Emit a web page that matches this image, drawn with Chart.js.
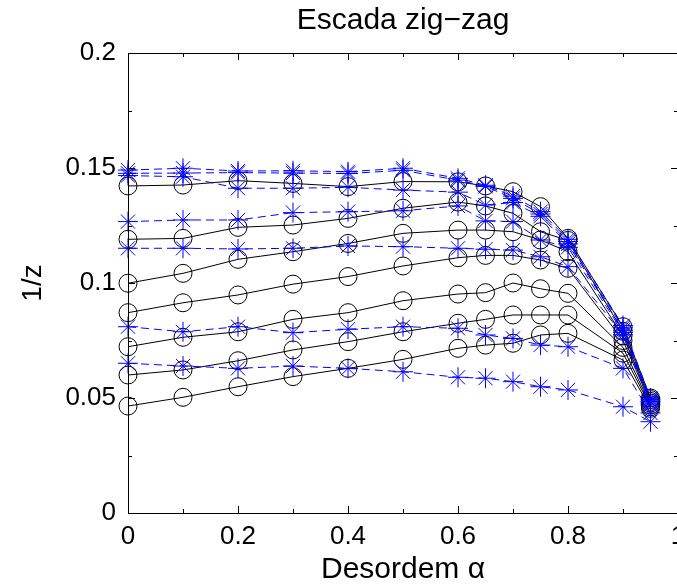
<!DOCTYPE html>
<html>
<head>
<meta charset="utf-8">
<script src="https://cdn.jsdelivr.net/npm/chart.js@4.4.0/dist/chart.umd.min.js"></script>
<style>
  html, body { margin: 0; padding: 0; background: #fff; overflow: hidden; }
  #wrap { position: relative; width: 700px; height: 585px; }
</style>
</head>
<body>
<div id="wrap"><canvas id="chart"></canvas></div>
<script>
"use strict";

// valores de desordem (eixo x)
const alphaVals = [0, 0.1, 0.2, 0.3, 0.4, 0.5, 0.6, 0.65, 0.7, 0.75, 0.8, 0.9, 0.95];

// curvas pretas (círculos, linha cheia)
const black1 = [0.1422, 0.1426, 0.1445, 0.1433, 0.1419, 0.1441, 0.1440, 0.1422, 0.1397, 0.1332, 0.1194, 0.0810, 0.0500];
const black2 = [0.1190, 0.1194, 0.1242, 0.1252, 0.1281, 0.1325, 0.1352, 0.1335, 0.1303, 0.1223, 0.1185, 0.0790, 0.0493];
const black3 = [0.0999, 0.1042, 0.1103, 0.1136, 0.1172, 0.1216, 0.1230, 0.1230, 0.1223, 0.1187, 0.1136, 0.0770, 0.0485];
const black4 = [0.0871, 0.0914, 0.0948, 0.0995, 0.1028, 0.1074, 0.1110, 0.1120, 0.1120, 0.1100, 0.1064, 0.0750, 0.0478];
const black5 = [0.0723, 0.0764, 0.0788, 0.0842, 0.0871, 0.0923, 0.0952, 0.0958, 0.1000, 0.0975, 0.0955, 0.0720, 0.0470];
const black6 = [0.0600, 0.0622, 0.0662, 0.0709, 0.0745, 0.0788, 0.0825, 0.0842, 0.0861, 0.0861, 0.0861, 0.0695, 0.0462];
const black7 = [0.0465, 0.0503, 0.0549, 0.0593, 0.0629, 0.0668, 0.0716, 0.0730, 0.0738, 0.0774, 0.0781, 0.0665, 0.0455];

// curvas azuis (asteriscos, tracejado)
const blue1 = [0.1491, 0.1499, 0.1487, 0.1488, 0.1484, 0.1499, 0.1455, 0.1425, 0.1378, 0.1310, 0.1190, 0.0815, 0.0500];
const blue2 = [0.1477, 0.1478, 0.1480, 0.1478, 0.1476, 0.1490, 0.1447, 0.1420, 0.1368, 0.1300, 0.1180, 0.0805, 0.0492];
const blue3 = [0.1467, 0.1462, 0.1412, 0.1412, 0.1416, 0.1404, 0.1395, 0.1339, 0.1350, 0.1290, 0.1170, 0.0795, 0.0485];
const blue4 = [0.1267, 0.1274, 0.1274, 0.1306, 0.1310, 0.1314, 0.1335, 0.1270, 0.1267, 0.1187, 0.1155, 0.0785, 0.0478];
const blue5 = [0.1151, 0.1151, 0.1148, 0.1151, 0.1161, 0.1158, 0.1151, 0.1147, 0.1143, 0.1114, 0.1071, 0.0775, 0.0470];
const blue6 = [0.0810, 0.0788, 0.0810, 0.0784, 0.0799, 0.0810, 0.0803, 0.0774, 0.0759, 0.0730, 0.0723, 0.0629, 0.0435];
const blue7 = [0.0651, 0.0639, 0.0629, 0.0639, 0.0629, 0.0614, 0.0590, 0.0586, 0.0571, 0.0549, 0.0535, 0.0462, 0.0397];

const blackSeries = [black1, black2, black3, black4, black5, black6, black7];
const blueSeries = [blue1, blue2, blue3, blue4, blue5, blue6, blue7];

const xTickLabels = ["0", "0.2", "0.4", "0.6", "0.8", "1"];
const yTickLabels = ["0", "0.05", "0.1", "0.15", "0.2"];

const FONT = "'Liberation Sans', Arial, sans-serif";

function toPoints(vals) {
    return vals.map((v, i) => ({ x: alphaVals[i], y: v }));
}

const datasets = [];
blueSeries.forEach((s) => {
    datasets.push({
        data: toPoints(s),
        borderColor: "rgb(0,0,255)",
        borderWidth: 1,
        borderDash: [8, 5],
        pointStyle: "star",
        pointRadius: 10,
        pointBorderColor: "rgb(0,0,255)",
        pointBorderWidth: 1,
        pointBackgroundColor: "rgb(0,0,255)",
        tension: 0,
        clip: false,
        order: 1,
    });
});
blackSeries.forEach((s) => {
    datasets.push({
        data: toPoints(s),
        borderColor: "#000",
        borderWidth: 1,
        pointStyle: "circle",
        pointRadius: 9,
        pointBorderColor: "#000",
        pointBorderWidth: 1,
        pointBackgroundColor: "rgba(0,0,0,0)",
        tension: 0,
        clip: false,
        order: 2,
    });
});

// moldura e marcas para dentro, como no MATLAB
const frameTicks = {
    id: "frameTicks",
    afterDatasetsDraw(chart) {
        const { ctx, chartArea: a, scales } = chart;
        const xs = scales.x, ys = scales.y;
        ctx.save();
        ctx.strokeStyle = "#000";
        ctx.lineWidth = 1;
        ctx.beginPath();
        ctx.rect(Math.round(a.left) + 0.5, Math.round(a.top) + 0.5,
                 Math.round(a.right - a.left), Math.round(a.bottom - a.top));
        ctx.stroke();
        ctx.beginPath();
        for (let i = 0; i <= 10; i++) {
            const px = Math.round(xs.getPixelForValue(i / 10)) + 0.5;
            const len = i % 2 === 0 ? 7 : 4;
            ctx.moveTo(px, a.bottom); ctx.lineTo(px, a.bottom - len);
            ctx.moveTo(px, a.top); ctx.lineTo(px, a.top + len);
        }
        for (let i = 0; i <= 8; i++) {
            const py = Math.round(ys.getPixelForValue(i * 0.025)) + 0.5;
            const len = i % 2 === 0 ? 7 : 4;
            ctx.moveTo(a.left, py); ctx.lineTo(a.left + len, py);
            ctx.moveTo(a.right, py); ctx.lineTo(a.right - len, py);
        }
        ctx.stroke();
        ctx.restore();
    }
};

const ctx = document.getElementById("chart").getContext("2d");
new Chart(ctx, {
    type: "line",
    data: { datasets: datasets },
    options: {
        responsive: true,
        maintainAspectRatio: false,
        animation: false,
        layout: { padding: { left: 0, right: 22, top: 0, bottom: 0 } },
        plugins: {
            legend: { display: false },
            tooltip: { enabled: false },
            title: {
                display: true,
                text: "Escada zig\u2212zag",
                color: "#000",
                fullSize: false,
                font: { family: FONT, size: 30, weight: "normal" },
                padding: { top: 3, bottom: 14 },
            },
        },
        scales: {
            x: {
                type: "linear",
                min: 0,
                max: 1,
                grid: { display: false, drawTicks: false },
                border: { display: false },
                ticks: {
                    stepSize: 0.1,
                    color: "#000",
                    padding: 8,
                    maxRotation: 0,
                    font: { family: FONT, size: 26 },
                    callback: (v) => {
                        const k = Math.round(v * 10);
                        return k % 2 === 0 ? xTickLabels[k / 2] : "";
                    },
                },
                title: {
                    display: true,
                    text: "Desordem \u03b1",
                    color: "#000",
                    font: { family: FONT, size: 30, lineHeight: 1 },
                    padding: { top: 0, bottom: 0 },
                },
                afterFit: (scale) => { scale.height = 72; },
            },
            y: {
                type: "linear",
                min: 0,
                max: 0.2,
                grid: { display: false, drawTicks: false },
                border: { display: false },
                ticks: {
                    stepSize: 0.025,
                    color: "#000",
                    padding: 12,
                    font: { family: FONT, size: 26 },
                    callback: (v) => {
                        const k = Math.round(v / 0.025);
                        return k % 2 === 0 ? yTickLabels[k / 2] : "";
                    },
                },
                title: {
                    display: true,
                    text: "1/z",
                    color: "#000",
                    font: { family: FONT, size: 28 },
                    padding: { top: 16, bottom: 0 },
                },
                afterFit: (scale) => { scale.width = 128; },
            },
        },
    },
    plugins: [frameTicks],
});
</script>
</body>
</html>
